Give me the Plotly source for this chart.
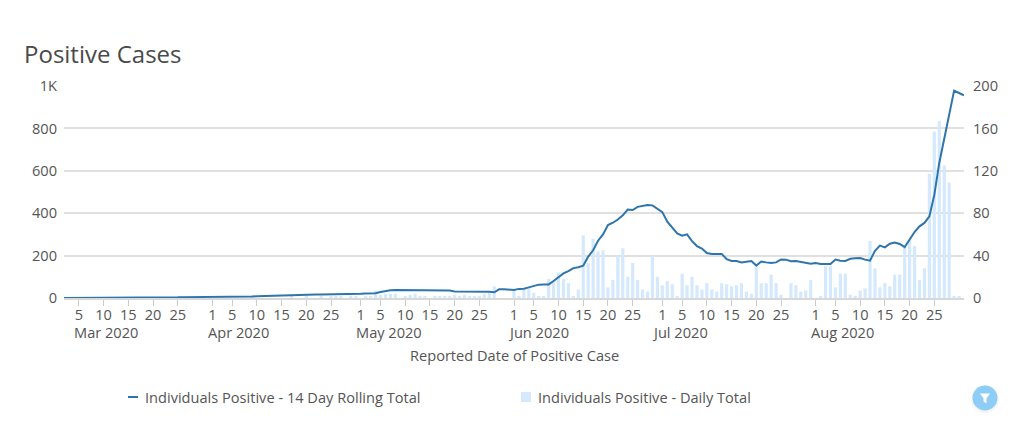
import pandas as pd
import plotly.graph_objects as go

dates = pd.date_range("2020-03-02", "2020-08-31", freq="D")

daily_mar = [0]*30
daily_apr = [0,0,0,0,0,0,0,0,1,0,0,0,0,0,0,0,1,0,0,1,0,0,1,0,1,1,1,0,1,1]
daily_may = [0,1,1,7,3,4,4,4,0,1,3,4,2,1,0,1,1,2,2,3,2,3,1,1,2,4,5,11,0,0,0]
daily_jun = [7,2,8,9,5,2,1,18,16,24,18,14,1,8,59,33,56,44,45,10,17,40,47,20,33,17,8,6,40,20]
daily_jul = [12,16,13,1,23,12,20,12,8,14,8,6,14,13,11,12,14,6,4,29,14,14,22,14,3,0,14,12,6,7,17]
daily_aug = [0,2,30,30,10,23,23,3,2,7,9,54,28,10,14,11,22,22,48,55,49,17,28,117,157,167,125,109,2,1,0]

rolling_mar = [0,0,0,0,0,0,0,0,0,0,0,0,1,1,1,1,1,1,1,2,2,3,3,3,4,4,4,5,5,5]
rolling_apr = [6,6,6,7,7,7,7,7,7,8,9,10,10,11,13,13,14,14,16,17,17,17,17,17,18,18,18,18,19,20]
rolling_may = [20,21,22,22,28,34,37,38,38,38,37,36,36,36,37,37,37,36,35,31,31,30,29,29,29,30,30,27,41,41,40]
rolling_jun = [38,43,44,50,57,63,64,64,80,99,116,127,141,145,152,195,225,270,300,344,355,370,390,417,415,430,433,439,437,420]
rolling_jul = [405,360,335,305,294,300,268,245,233,212,208,208,208,183,175,174,168,171,174,153,172,168,165,168,182,181,173,175,171,167,162]
rolling_aug = [165,160,160,160,181,176,175,185,187,189,181,176,223,247,239,256,262,255,240,278,311,338,354,385,487,637,750,880,978,967,956]

daily_total = daily_mar + daily_apr + daily_may + daily_jun + daily_jul + daily_aug
rolling_total = rolling_mar + rolling_apr + rolling_may + rolling_jun + rolling_jul + rolling_aug

x_tick_days = [5,10,15,20,25]
tick_vals, tick_text = [], []
for month in range(3, 9):
    for d in ([1] if month > 3 else []) + x_tick_days:
        tick_vals.append(pd.Timestamp(2020, month, d))
        tick_text.append(str(d))

month_labels = ["Mar 2020","Apr 2020","May 2020","Jun 2020","Jul 2020","Aug 2020"]
month_label_dates = ["2020-03-10 14:00","2020-04-06 05:00","2020-05-06 17:00","2020-06-05 22:00","2020-07-04 12:00","2020-08-06 10:00"]

left_vals = [0,200,400,600,800,1000]
left_text = ["0","200","400","600","800","1K"]
right_vals = [0,40,80,120,160,200]

line_name = "Individuals Positive - 14 Day Rolling Total"
bar_name = "Individuals Positive - Daily Total"
TXT = "#555555"
FONT = "Open Sans"
FS = 14.6

L, T, W, H = 64, 86, 900, 212
PAGE = 8
FIG_W, FIG_H = 1024 - PAGE, 425 - PAGE
px = lambda v: (v - L) / W
py = lambda v: (T + H - v) / H

fig = go.Figure()
fig.add_bar(x=dates, y=daily_total, name=bar_name, marker=dict(color="#d5e9fe", line_width=0), yaxis="y", showlegend=False)
fig.add_scatter(x=dates, y=rolling_total, name=line_name, mode="lines", line=dict(color="#2e75ad", width=2), yaxis="y2", showlegend=False)

def circle(cx, cy, r, color):
    return dict(type="circle", xref="paper", yref="paper", x0=px(cx-r), x1=px(cx+r), y0=py(cy+r), y1=py(cy-r),
                fillcolor=color, line_width=0, layer="above")

shapes = [
    dict(type="line", xref="paper", yref="paper", x0=px(128), x1=px(138), y0=py(397), y1=py(397), line=dict(color="#2e75ad", width=2)),
    dict(type="rect", xref="paper", yref="paper", x0=px(521), x1=px(531), y0=py(402), y1=py(392), fillcolor="#d5e9fe", line_width=0),
    circle(985, 399, 14, "rgba(0,0,0,0.04)"),
    circle(985, 398, 12.5, "#8ecdf6"),
    circle(985, -10, 13, "#8ecdf6"),
]
fx = [980, 990, 986.5, 986.5, 983.5, 983.5]
fy = [393.5, 393.5, 398.5, 403.5, 401.5, 398.5]
funnel = "M " + " L ".join(f"{px(a):.5f},{py(b):.5f}" for a, b in zip(fx, fy)) + " Z"
shapes.append(dict(type="path", xref="paper", yref="paper", path=funnel, fillcolor="white", line_width=0, layer="above"))

annotations = [
    dict(text=t, x=d, xref="x", y=py(332), yref="paper", yanchor="middle", showarrow=False, font=dict(family=FONT, size=FS, color=TXT))
    for t, d in zip(month_labels, month_label_dates)
]
annotations += [
    dict(text=line_name, x=px(143), xref="paper", xanchor="left", y=py(397), yref="paper", yanchor="middle", showarrow=False, font=dict(family=FONT, size=FS, color=TXT)),
    dict(text=bar_name, x=px(536), xref="paper", xanchor="left", y=py(397), yref="paper", yanchor="middle", showarrow=False, font=dict(family=FONT, size=FS, color=TXT)),
    dict(text="Reported Date of Positive Case", x=px(514), xref="paper", y=py(355), yref="paper", yanchor="middle", showarrow=False, font=dict(family=FONT, size=FS, color=TXT)),
]

fig.update_layout(
    width=FIG_W, height=FIG_H, autosize=False,
    margin=dict(l=L-PAGE, r=1024-L-W, t=T-PAGE, b=425-T-H),
    paper_bgcolor="white", plot_bgcolor="white",
    bargap=0.35, showlegend=False,
    font=dict(family=FONT, size=FS, color=TXT),
    title=dict(text="Positive Cases", x=(24-PAGE)/FIG_W, xref="container", xanchor="left", y=1-(55-PAGE)/FIG_H, yanchor="middle",
               font=dict(family=FONT, size=24, color="#4a4a4a")),
    xaxis=dict(type="date", range=["2020-03-02","2020-08-31"], tickmode="array", tickvals=tick_vals, ticktext=tick_text,
               ticks="outside", ticklen=6, tickcolor="#cccccc", tickwidth=1, showgrid=False, showline=True, linecolor="#d8d8d8", linewidth=2,
               tickangle=0, ticklabelstandoff=-4, tickfont=dict(family=FONT, size=FS, color=TXT)),
    yaxis=dict(side="right", range=[0,200], tickmode="array", tickvals=right_vals, showgrid=True, gridcolor="#e0e0e0", gridwidth=1.5,
               zeroline=False, showline=False, ticks="", ticklabelstandoff=8, tickfont=dict(family=FONT, size=FS, color=TXT)),
    yaxis2=dict(side="left", overlaying="y", range=[0,1000], tickmode="array", tickvals=left_vals, ticktext=left_text, showgrid=False,
                zeroline=False, showline=False, ticks="", ticklabelstandoff=6, tickfont=dict(family=FONT, size=FS, color=TXT)),
    shapes=shapes, annotations=annotations,
)
assert len(daily_total) == len(dates) == len(rolling_total), (len(daily_total), len(rolling_total))
fig.write_html("out.html")
